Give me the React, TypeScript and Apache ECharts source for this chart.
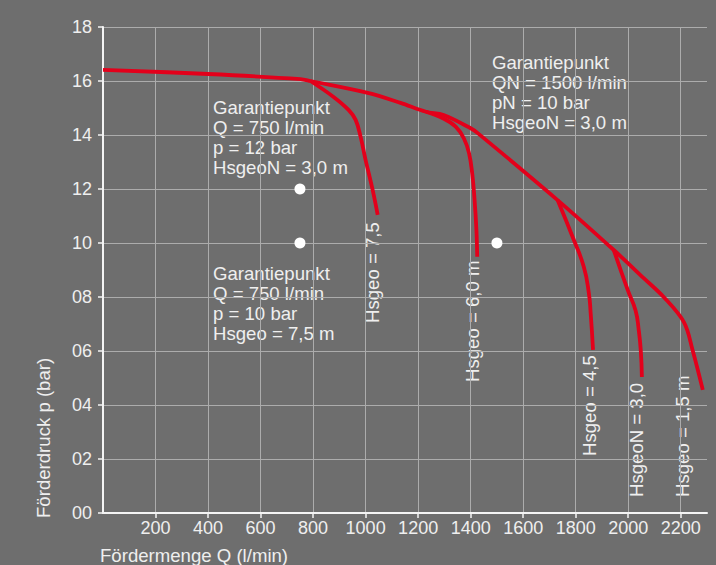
import { useEffect, useRef } from 'react';
import * as echarts from 'echarts';

// Q (l/min), p (bar)
const envelope: [number, number][] = [
  [0, 16.41], [400, 16.26], [752, 16.07], [790, 16.0], [1008, 15.56], [1133, 15.19],
  [1230, 14.86], [1297, 14.74], [1400, 14.25], [1427, 14.07], [1731, 11.59], [1945, 9.74],
  [2059, 8.7], [2135, 8.0], [2212, 7.07], [2245, 6.04], [2284, 4.56],
];
const branch75: [number, number][] = [
  [790, 16.0], [878, 15.41], [935, 14.93], [962, 14.56], [981, 13.93], [1000, 13.07],
  [1027, 11.96], [1046, 11.04],
];
const branch60: [number, number][] = [
  [1230, 14.86], [1298, 14.6], [1343, 14.31], [1374, 13.88], [1394, 13.32], [1406, 12.57],
  [1415, 11.59], [1422, 10.48], [1425, 9.49],
];
const branch45: [number, number][] = [
  [1731, 11.59], [1793, 10.11], [1831, 9.11], [1850, 8.15], [1857, 7.4], [1866, 6.04],
];
const branch30: [number, number][] = [
  [1945, 9.74], [1998, 8.26], [2028, 7.5], [2040, 6.78], [2048, 6.0], [2052, 5.04],
];
const guaranteePoints: [number, number][] = [[750, 12], [750, 10], [1500, 10]];

const curveLabels = ['Hsgeo = 7,5', 'Hsgeo = 6,0 m', 'Hsgeo = 4,5', 'HsgeoN = 3,0', 'Hsgeo = 1,5 m'];
const noteA = ['Garantiepunkt', 'Q = 750 l/min', 'p = 12 bar', 'HsgeoN = 3,0 m'];
const noteB = ['Garantiepunkt', 'Q = 750 l/min', 'p = 10 bar', 'Hsgeo = 7,5 m'];
const noteC = ['Garantiepunkt', 'QN = 1500 l/min', 'pN = 10 bar', 'HsgeoN = 3,0 m'];
const xTitle = 'Fördermenge Q (l/min)';
const yTitle = 'Förderdruck p (bar)';

const FONT = '"Liberation Sans", Arial, Helvetica, sans-serif';
const TXT = '#efefef';
const RED = '#e3001b';

function txt(text: string, x: number, y: number, opts: any = {}) {
  return {
    type: 'text',
    x,
    y,
    rotation: opts.rotation || 0,
    silent: true,
    style: {
      text,
      fill: TXT,
      fontSize: opts.fontSize || 18.6,
      fontFamily: FONT,
      lineHeight: 20,
      align: opts.align || 'left',
      textAlign: opts.align || 'left',
      verticalAlign: opts.va || 'top',
      textVerticalAlign: opts.va || 'top',
    },
  };
}

export default function App() {
  const ref = useRef<HTMLDivElement>(null);
  useEffect(() => {
    if (!ref.current) return;
    const chart = echarts.init(ref.current, undefined, { renderer: 'svg' });
    const lineSeries = (data: [number, number][], smooth: number) => ({
      type: 'line',
      data,
      smooth,
      symbol: 'none',
      lineStyle: { color: RED, width: 3.8, cap: 'butt', join: 'round' },
      z: 3,
    });
    chart.setOption({
      animation: false,
      backgroundColor: '#6e6e6e',
      textStyle: { fontFamily: FONT },
      grid: { left: 103, right: 9, top: 27, bottom: 52 },
      xAxis: {
        type: 'value',
        min: 0,
        max: 2300,
        interval: 200,
        axisLine: { show: true, onZero: false, lineStyle: { color: '#f4f4f4', width: 2 } },
        axisTick: { show: true, length: 5, lineStyle: { color: '#f4f4f4', width: 1.5 } },
        axisLabel: {
          color: TXT,
          fontSize: 18,
          margin: 6,
          showMinLabel: false,
          showMaxLabel: false,
          formatter: (v: number) => (v === 0 || v === 2300 ? '' : String(v)),
        },
        splitLine: { show: true, showMinLine: false, showMaxLine: false, lineStyle: { color: '#acacac', width: 1 } },
      },
      yAxis: {
        type: 'value',
        min: 0,
        max: 18,
        interval: 2,
        axisLine: { show: true, onZero: false, lineStyle: { color: '#f4f4f4', width: 2 } },
        axisTick: { show: true, length: 5, lineStyle: { color: '#f4f4f4', width: 1.5 } },
        axisLabel: {
          color: TXT,
          fontSize: 18,
          margin: 11,
          formatter: (v: number) => String(v).padStart(2, '0'),
        },
        splitLine: { show: true, showMinLine: false, lineStyle: { color: '#acacac', width: 1 } },
      },
      series: [
        lineSeries(envelope, 0.35),
        lineSeries(branch75, 0.4),
        lineSeries(branch60, 0.4),
        lineSeries(branch45, 0.5),
        lineSeries(branch30, 0.5),
        {
          type: 'scatter',
          data: guaranteePoints,
          symbol: 'circle',
          symbolSize: 11,
          itemStyle: { color: '#ffffff', opacity: 1 },
          z: 4,
        },
      ],
      graphic: [
        txt(noteA.join('\n'), 213, 97),
        txt(noteB.join('\n'), 213, 263),
        txt(noteC.join('\n'), 492, 52),
        txt(curveLabels[0], 372, 323, { rotation: Math.PI / 2, va: 'middle' }),
        txt(curveLabels[1], 472, 382, { rotation: Math.PI / 2, va: 'middle' }),
        txt(curveLabels[2], 589, 456, { rotation: Math.PI / 2, va: 'middle' }),
        txt(curveLabels[3], 636, 497, { rotation: Math.PI / 2, va: 'middle' }),
        txt(curveLabels[4], 682, 497, { rotation: Math.PI / 2, va: 'middle' }),
        txt(xTitle, 100, 555, { va: 'middle' }),
        txt(yTitle, 43, 518, { rotation: Math.PI / 2, va: 'middle' }),
      ],
    });
    return () => chart.dispose();
  }, []);
  return (
    <div
      ref={ref}
      style={{ position: 'absolute', left: 0, top: 0, width: 716, height: 565 }}
    />
  );
}
